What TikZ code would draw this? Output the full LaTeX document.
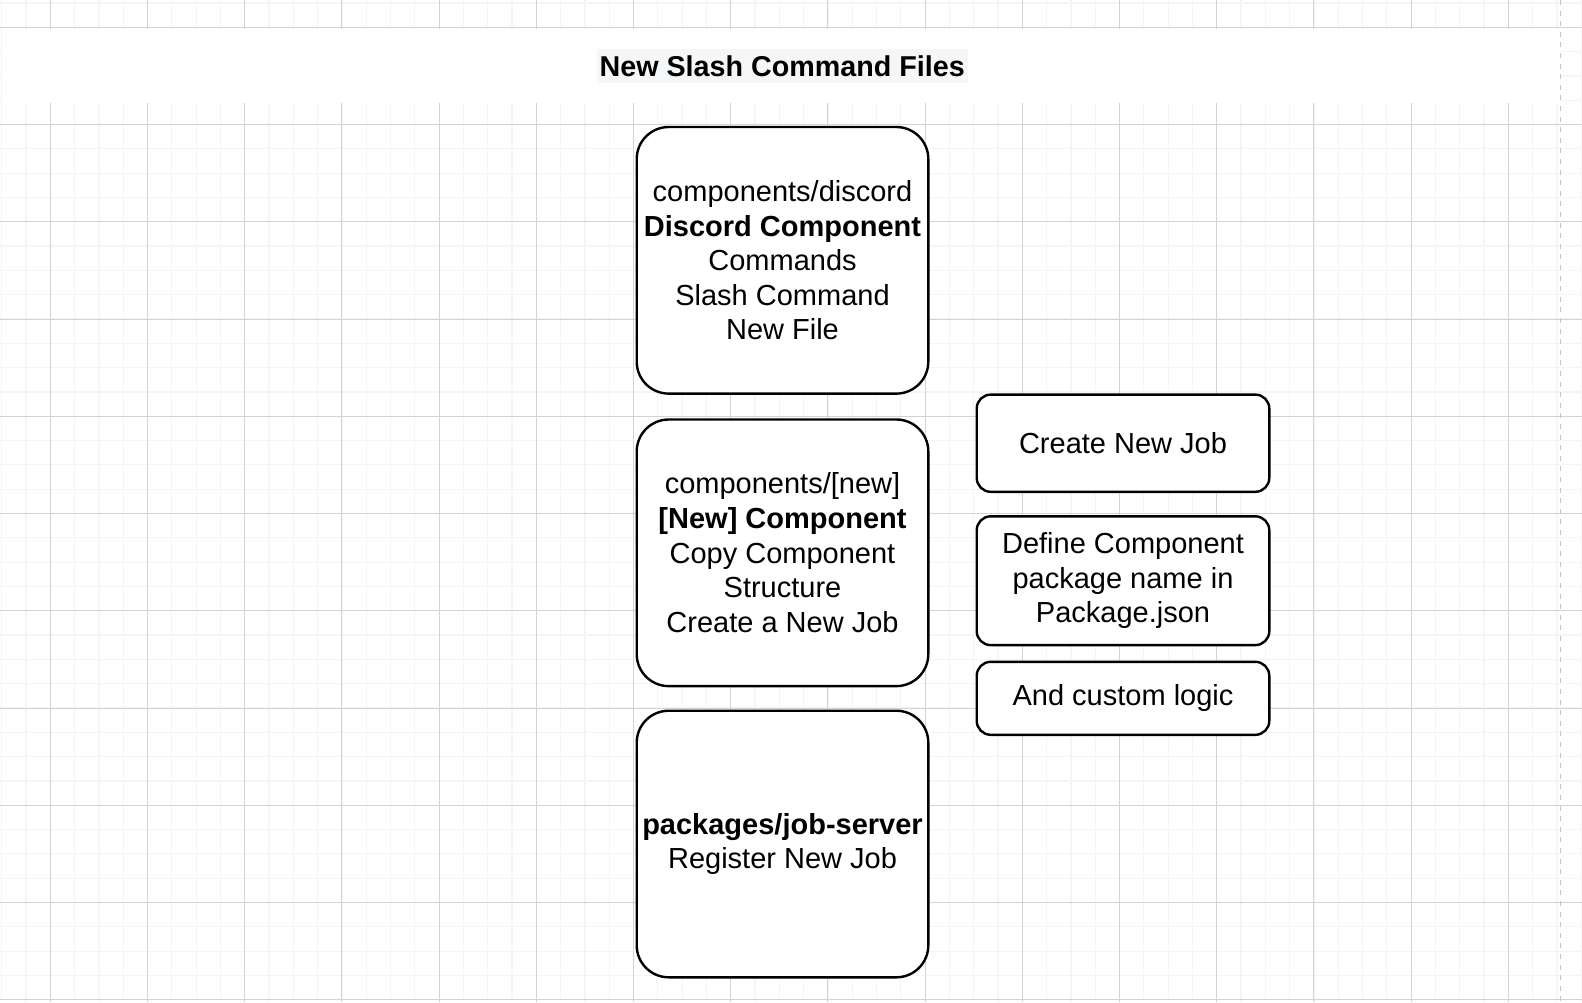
\documentclass[tikz,border=0pt]{standalone}
\usepackage{fontspec}
\setmainfont{Liberation Sans}
\definecolor{minorgrid}{HTML}{F5F5F5}
\definecolor{majorgrid}{HTML}{D3D3D3}
\definecolor{titlebg}{HTML}{F5F6F8}
\definecolor{edgedash}{HTML}{C4C4C4}
\tikzset{
  bigbox/.style={draw=black, line width=1.2pt, fill=white, rounded corners=16pt,
    minimum width=145.8pt, minimum height=133.3pt, inner sep=0pt, align=center,
    font=\fontsize{14.5pt}{17.3pt}\selectfont},
  smallbox/.style={draw=black, line width=1.2pt, fill=white, rounded corners=7pt,
    minimum width=146.3pt, inner sep=0pt, align=center,
    font=\fontsize{14.5pt}{17.3pt}\selectfont},
  titlebox/.style={fill=titlebg, minimum width=185.5pt, minimum height=16.85pt, inner sep=0pt,
    font=\fontsize{14.35pt}{17.2pt}\selectfont\bfseries},
}
\begin{document}
\begin{tikzpicture}[x=0.5pt,y=-0.5pt]
\useasboundingbox (0,0) rectangle (1582,1002);
\fill[white] (0,0) rectangle (1582,1002);
% minor grid
\foreach \i in {-2,...,63} {
  \draw[minorgrid, line width=0.6pt] ({50.3+24.3*\i},0) -- ({50.3+24.3*\i},1002);
}
\foreach \j in {-1,...,41} {
  \draw[minorgrid, line width=0.6pt] (0,{27.3+24.31*\j}) -- (1582,{27.3+24.31*\j});
}
% major grid
\foreach \i in {0,...,15} {
  \draw[majorgrid, line width=0.5pt] ({50.3+97.2*\i},0) -- ({50.3+97.2*\i},1002);
}
\foreach \j in {0,...,10} {
  \draw[majorgrid, line width=0.5pt] (0,{27.3+97.25*\j}) -- (1582,{27.3+97.25*\j});
}
% title band
\fill[white] (2,28.5) rectangle (1560.7,103);
% page edge
\draw[edgedash, line width=0.6pt, dash pattern=on 2.5pt off 2.8pt] (1560.7,0) -- (1560.7,1002);
% title
\node[titlebox] (title) at (782.2,66) {New Slash Command Files};
% main boxes
\node[bigbox] (discord) at (782.5,260.3) {components/discord\\\textbf{Discord Component}\\Commands\\Slash Command\\New File};
\node[bigbox] (newcomp) at (782.5,552.8) {components/[new]\\\textbf{{[New] Component}}\\Copy Component\\Structure\\Create a New Job};
\node[bigbox] (jobserver) at (782.5,844) {\textbf{packages/job-server}\\Register New Job};
% right boxes
\node[smallbox, minimum height=48.6pt] (createjob) at (1123,443.2) {Create New Job};
\node[smallbox, minimum height=64.4pt] (definepkg) at (1123,580.7) {Define Component\\package name in\\Package.json};
\node[smallbox, minimum height=36.5pt] (customlogic) at (1123,698.3) {And custom logic};
\end{tikzpicture}
\end{document}
